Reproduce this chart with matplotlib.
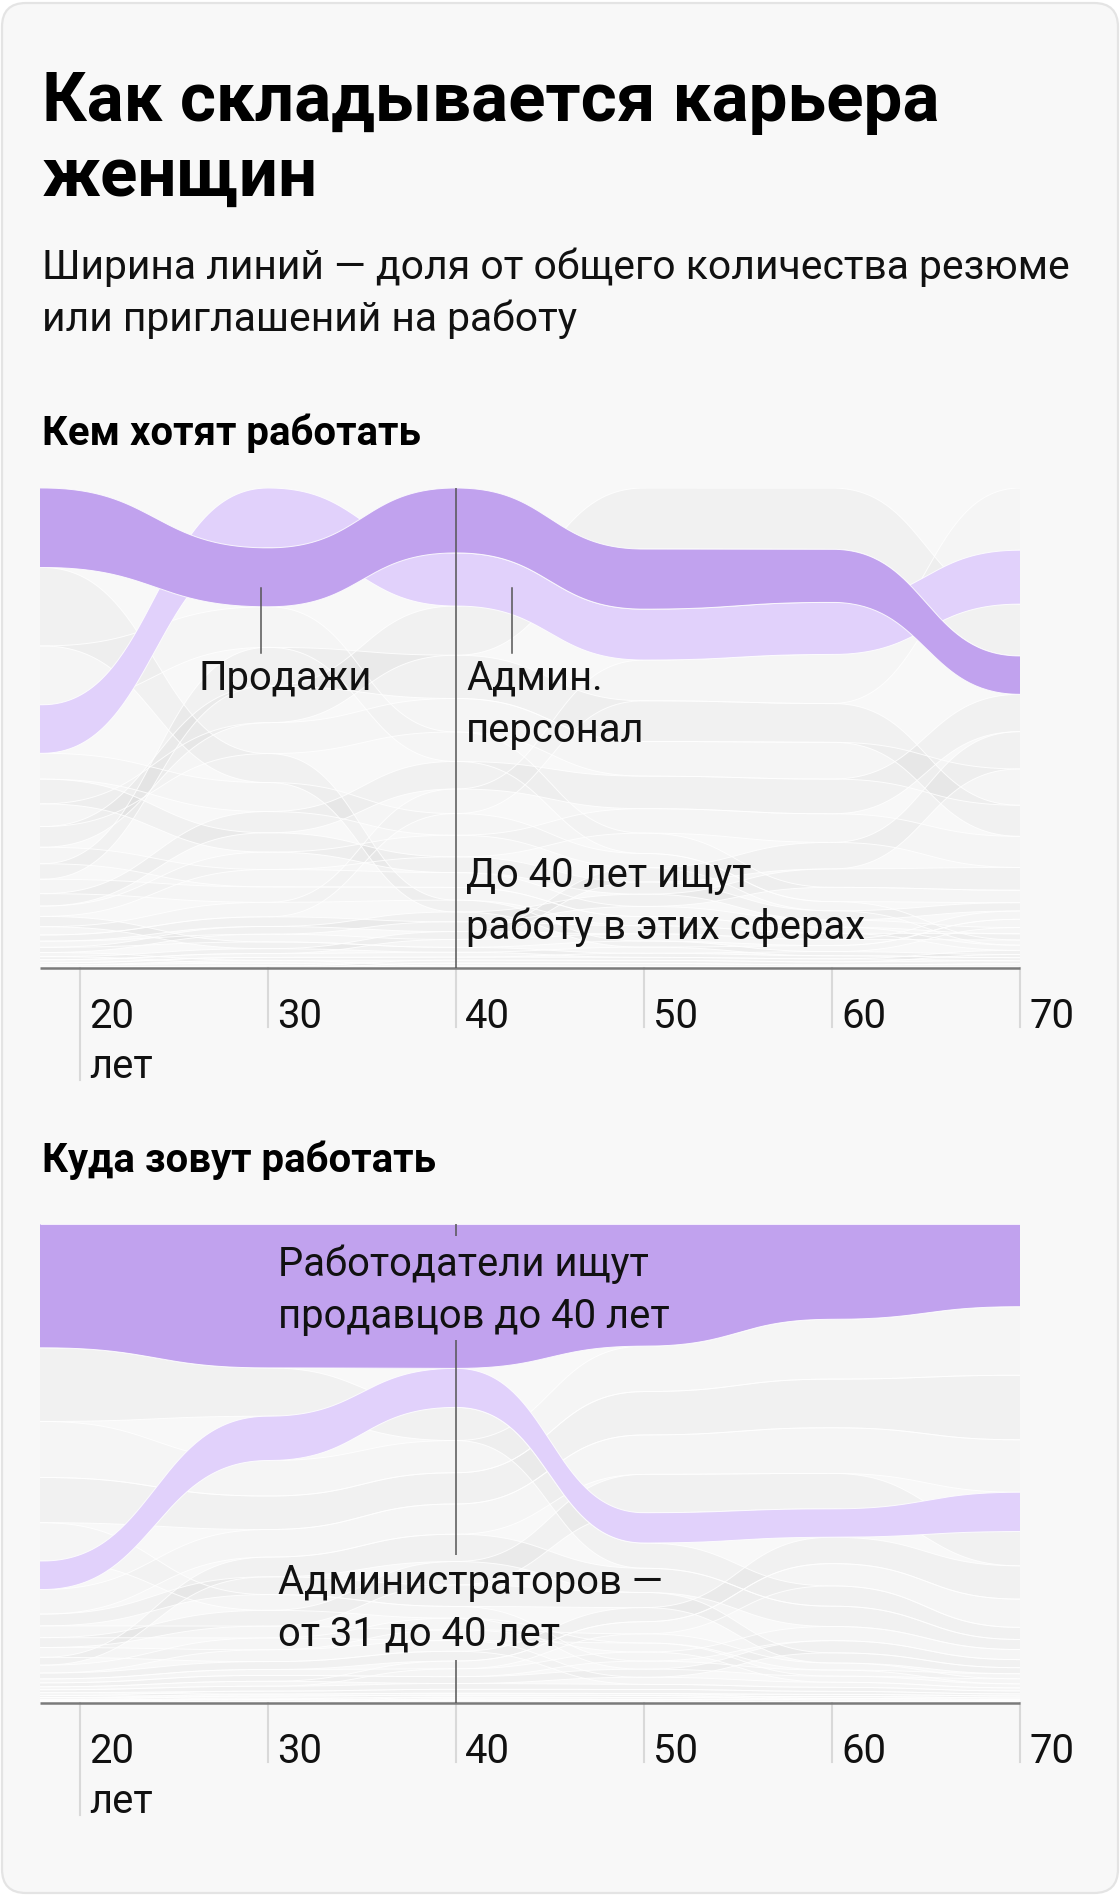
import numpy as np
import matplotlib
matplotlib.use("Agg")
import matplotlib.pyplot as plt
from matplotlib.patches import FancyBboxPatch
from matplotlib.transforms import offset_copy

# ---------------- data ----------------
ages = [18, 30, 40, 50, 60, 70]          # age groups (node positions)
tick_values = [20, 30, 40, 50, 60, 70]
tick_labels = ["20", "30", "40", "50", "60", "70"]
tick_unit = "лет"

dark_name = "Продажи"
light_name = "Административный персонал"

# "Кем хотят работать" - relative share of resumes per age group
want_categories = [
    "Продажи", "Административный персонал", "Начало карьеры", "Туризм, рестораны",
    "Медицина", "Рабочий персонал", "Бухгалтерия", "Транспорт, склад",
    "Производство", "Маркетинг", "Образование", "Красота", "IT", "Банки",
    "Безопасность", "Строительство", "HR", "Юристы", "Искусство", "Госслужба",
    "Наука", "Топ-менеджмент", "Спорт", "Страхование",
]
want_shares = [
    [77, 61, 66, 59, 52, 37],
    [47, 62, 54, 50, 51, 52],
    [76, 30, 12, 6, 4, 3],
    [57, 42, 30, 20, 14, 12],
    [20, 38, 50, 60, 60, 50],
    [8, 15, 25, 40, 48, 60],
    [15, 40, 44, 40, 38, 30],
    [22, 32, 34, 34, 36, 35],
    [12, 22, 28, 32, 34, 36],
    [25, 30, 22, 14, 9, 5],
    [10, 18, 22, 24, 28, 30],
    [24, 20, 16, 12, 9, 8],
    [16, 18, 15, 10, 7, 6],
    [14, 16, 13, 9, 6, 5],
    [3, 5, 8, 14, 26, 36],
    [5, 8, 10, 12, 18, 22],
    [6, 10, 10, 8, 6, 6],
    [6, 8, 8, 7, 6, 8],
    [10, 7, 5, 4, 3, 3],
    [3, 4, 5, 6, 6, 8],
    [2, 3, 3, 3, 3, 4],
    [1, 2, 3, 3, 3, 3],
    [4, 3, 2, 1.5, 1, 1],
    [2, 3, 3, 3, 2, 3],
]

# "Куда зовут работать" - relative share of job invitations per age group
invite_categories = [
    "Продажи", "Административный персонал", "Туризм, рестораны", "Рабочий персонал",
    "Транспорт, склад", "Начало карьеры", "Производство", "Медицина", "Бухгалтерия",
    "Маркетинг", "Домашний персонал", "Безопасность", "Красота", "IT", "Банки",
    "Строительство", "HR", "Образование", "Юристы", "Искусство", "Госслужба",
    "Наука", "Топ-менеджмент", "Спорт", "Страхование",
]
invite_shares = [
    [126, 146, 148, 121, 94, 82],
    [29, 45, 40, 30, 28, 39],
    [75, 49, 34, 25, 20, 12],
    [57, 36, 33, 45, 59, 68],
    [46, 34, 32, 43, 48, 64],
    [39, 16, 12, 8, 6, 5],
    [25, 28, 31, 39, 45, 52],
    [10, 16, 24, 38, 35, 34],
    [8, 20, 28, 24, 20, 10],
    [12, 18, 22, 15, 10, 6],
    [6, 8, 10, 14, 26, 33],
    [3, 5, 8, 12, 22, 28],
    [12, 12, 11, 9, 7, 5],
    [8, 12, 12, 9, 6, 4],
    [10, 12, 11, 7, 5, 3],
    [4, 6, 8, 9, 14, 10],
    [3, 5, 6, 5, 4, 3],
    [4, 6, 7, 8, 12, 8],
    [2, 3, 4, 4, 3, 2],
    [3, 2, 2, 2, 1.5, 1],
    [1, 2, 2, 2, 2, 2],
    [1, 1, 1.5, 1.5, 1.5, 1],
    [0.5, 1, 2, 2, 2, 1.5],
    [2, 1.5, 1, 1, 0.5, 0.5],
    [1, 1.5, 1.5, 1, 1, 1],
]

title_lines = ["Как складывается карьера", "женщин"]
subtitle_lines = ["Ширина линий — доля от общего количества резюме",
                  "или приглашений на работу"]
section1 = "Кем хотят работать"
section2 = "Куда зовут работать"

# ---------------- style ----------------
W, H = 1120, 1896
FONT = ["Roboto", "DejaVu Sans"]
TEXT = "#111111"
DARK = "#c1a2ee"
LIGHT = "#e1d1fb"
CARD = "#f8f8f8"
XMIN, XMAX = 17.87, 70

fig = plt.figure(figsize=(W / 100, H / 100), dpi=100)
fig.patch.set_facecolor("white")

card = FancyBboxPatch((2 / 100, 3 / 100), 1116 / 100, 1890 / 100,
                      boxstyle="round,pad=0,rounding_size=0.24",
                      transform=fig.dpi_scale_trans, facecolor=CARD,
                      edgecolor="#e4e4e4", linewidth=1.6, zorder=0)
fig.add_artist(card)

renderer = fig.canvas.get_renderer()


def fit(s, target, weight):
    t = fig.text(0, 0, s, fontsize=40, fontweight=weight, family=FONT)
    w = t.get_window_extent(renderer).width
    t.remove()
    return 40 * target / w


def ftext(xpx, ypx, s, size, weight="normal", color=TEXT):
    return fig.text(xpx / W, 1 - ypx / H, s, fontsize=size, fontweight=weight,
                    color=color, family=FONT, va="baseline", ha="left", zorder=10)


title_size = fit(title_lines[0], 897, "bold")
sub_size = fit(subtitle_lines[0], 1027, "normal")
sec_size = fit(section1, 379, "bold")
ann_size = fit("Работодатели ищут", 371, "normal")

ftext(42, 121, title_lines[0], title_size, "bold", "#000000")
ftext(42, 196, title_lines[1], title_size, "bold", "#000000")
ftext(42, 279, subtitle_lines[0], sub_size)
ftext(42, 331, subtitle_lines[1], sub_size)
ftext(42, 445, section1, sec_size, "bold", "#000000")
ftext(42, 1172, section2, sec_size, "bold", "#000000")

t_param = np.linspace(0, 1, 70)
FX = 1.5 * t_param * (1 - t_param) + t_param ** 3
FY = 3 * t_param ** 2 - 2 * t_param ** 3


def bump_path(vals):
    xs = np.array(ages, float)
    X = [XMIN]
    Y = [vals[0]]
    for k in range(len(xs) - 1):
        X.extend(xs[k] + (xs[k + 1] - xs[k]) * FX)
        Y.extend(vals[k] + (vals[k + 1] - vals[k]) * FY)
    return np.array(X), np.array(Y)


def draw_streams(ax, cats, shares):
    S = np.array(shares, float)
    S = S / S.sum(axis=0, keepdims=True) * 100
    n, m = S.shape
    top = np.zeros_like(S)
    bot = np.zeros_like(S)
    for j in range(m):
        order = np.argsort(-S[:, j], kind="stable")
        c = 0.0
        for i in order:
            top[i, j] = c
            c += S[i, j]
            bot[i, j] = c
    rank0 = np.argsort(np.argsort(-S[:, 0], kind="stable"))
    idx_dark = cats.index(dark_name)
    idx_light = cats.index(light_name)
    draw_order = [i for i in range(n) if i not in (idx_dark, idx_light)] + [idx_light, idx_dark]
    for i in draw_order:
        X, T = bump_path(top[i])
        _, B = bump_path(bot[i])
        if i == idx_dark:
            fc, a, z = DARK, 1.0, 4
        elif i == idx_light:
            fc, a, z = LIGHT, 1.0, 3
        else:
            fc, a, z = "black", (0.026 if rank0[i] % 2 == 1 else 0.013), 1
        ax.fill_between(X, T, B, facecolor=fc, alpha=a, linewidth=0, zorder=z)
        ax.plot(X, T, color="white", lw=0.7, alpha=0.85, zorder=z + 0.1, solid_capstyle="butt")
        ax.plot(X, B, color="white", lw=0.7, alpha=0.85, zorder=z + 0.1, solid_capstyle="butt")


def make_axes(top_px, bot_px):
    ax = fig.add_axes([40 / W, 1 - bot_px / H, 980 / W, (bot_px - top_px) / H])
    ax.set_xlim(XMIN, XMAX)
    ax.set_ylim(100, 0)
    ax.axis("off")
    ax.patch.set_alpha(0)
    return ax


def yf(top_px, bot_px, ypx):
    return (bot_px - ypx) / (bot_px - top_px)


def draw_axis(ax, top_px, bot_px):
    xt = ax.get_xaxis_transform()
    for v, lab in zip(tick_values, tick_labels):
        end = 112 if v == tick_values[0] else 59
        ax.plot([v, v], [0, yf(top_px, bot_px, bot_px + end)], transform=xt,
                color="#d9d9d9", lw=1.5, clip_on=False, zorder=5)
        tr = offset_copy(xt, fig=fig, x=9, y=0, units="dots")
        ax.text(v, yf(top_px, bot_px, bot_px + 60), lab, transform=tr, fontsize=ann_size,
                family=FONT, color=TEXT, va="baseline", ha="left")
        if v == tick_values[0]:
            ax.text(v, yf(top_px, bot_px, bot_px + 110), tick_unit, transform=tr,
                    fontsize=ann_size, family=FONT, color=TEXT, va="baseline", ha="left")
    ax.plot([XMIN, XMAX], [0, 0], transform=xt, color="#7b7b7b", lw=1.8,
            clip_on=False, zorder=6, solid_capstyle="butt")


# ---------------- top chart ----------------
T1, B1 = 488, 968
ax1 = make_axes(T1, B1)
draw_streams(ax1, want_categories, want_shares)
xt1 = ax1.get_xaxis_transform()
ax1.plot([40, 40], [0, 1], transform=xt1, color="#555555", lw=1.1, zorder=7)
ax1.plot([29.6, 29.6], [yf(T1, B1, 588), yf(T1, B1, 653)], transform=xt1,
         color="#555555", lw=1.1, zorder=7)
ax1.plot([43.0, 43.0], [yf(T1, B1, 588), yf(T1, B1, 653)], transform=xt1,
         color="#555555", lw=1.1, zorder=7)
draw_axis(ax1, T1, B1)
ftext(198, 690, "Продажи", ann_size)
ftext(466, 690, "Админ.", ann_size)
ftext(466, 742, "персонал", ann_size)
ftext(466, 887, "До 40 лет ищут", ann_size)
ftext(466, 939, "работу в этих сферах", ann_size)

# ---------------- bottom chart ----------------
T2, B2 = 1224, 1703
ax2 = make_axes(T2, B2)
draw_streams(ax2, invite_categories, invite_shares)
xt2 = ax2.get_xaxis_transform()
for y0, y1 in [(1224, 1236), (1340, 1555), (1660, 1703)]:
    ax2.plot([40, 40], [yf(T2, B2, y0), yf(T2, B2, y1)], transform=xt2,
             color="#555555", lw=1.1, zorder=7, solid_capstyle="butt")
draw_axis(ax2, T2, B2)
ftext(278, 1276, "Работодатели ищут", ann_size)
ftext(278, 1328, "продавцов до 40 лет", ann_size)
ftext(278, 1594, "Администраторов —", ann_size)
ftext(278, 1646, "от 31 до 40 лет", ann_size)

fig.savefig("out.png", dpi=100, facecolor="white")
